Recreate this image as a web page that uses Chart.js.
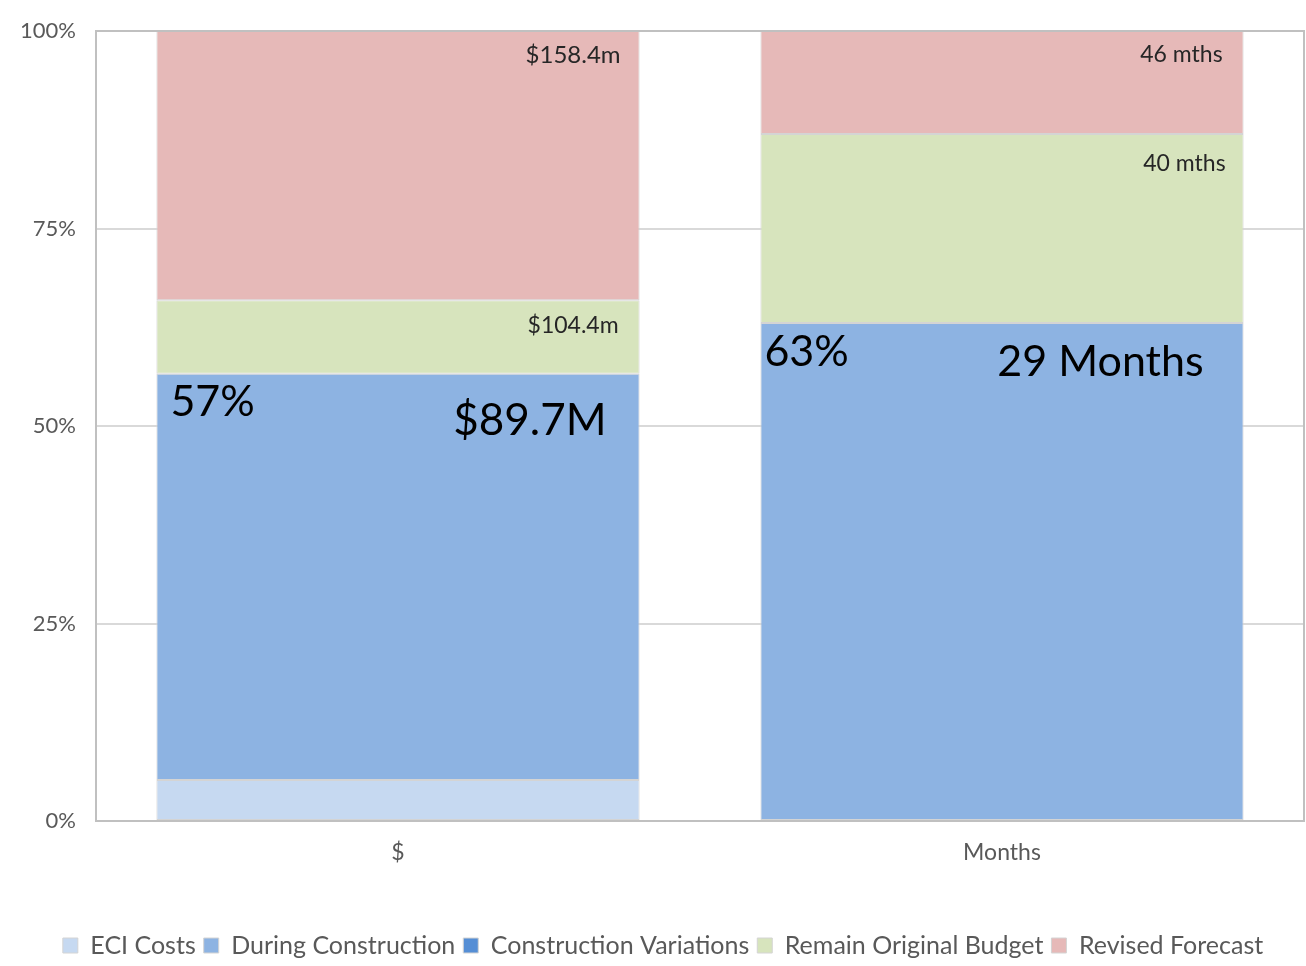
<!DOCTYPE html>
<html>
<head>
<meta charset="utf-8">
<script src="https://cdn.jsdelivr.net/npm/chart.js@4.4.1/dist/chart.umd.min.js"></script>
<style>
html,body{margin:0;padding:0;background:#fff;overflow:hidden;}
#wrap{width:1306px;height:966px;position:relative;overflow:hidden;}
</style>
</head>
<body>
<div id="wrap"><canvas id="c" width="1306" height="968"></canvas></div>
<script>
// ---- data ----
const categories = ['$', 'Months'];
const seriesNames = ['ECI Costs', 'During Construction', 'Construction Variations', 'Remain Original Budget', 'Revised Forecast'];
const eciCosts = [8.2, 0];
const duringConstruction = [81.5, 29];
const constructionVariations = [0, 0];
const remainOriginalBudget = [14.7, 11];
const revisedForecast = [54.0, 6];
const yTicks = [0, 25, 50, 75, 100];
// annotation texts: [datasetIndex, categoryIndex, text]
const labelTexts = [
  [4, 0, '$158.4m'],
  [3, 0, '$104.4m'],
  [1, 0, '57%'],
  [1, 0, '$89.7M'],
  [4, 1, '46 mths'],
  [3, 1, '40 mths'],
  [1, 1, '63%'],
  [1, 1, '29 Months']
];
// ---- styles for annotations (align, dx, dy, size) ----
const labelStyles = [
  {align:'right', dx:-19, dy:24, size:24},
  {align:'right', dx:-21, dy:25, size:23},
  {align:'left',  dx:14,  dy:28, size:43},
  {align:'right', dx:-33, dy:47, size:44},
  {align:'right', dx:-21, dy:24, size:23},
  {align:'right', dx:-18, dy:30, size:23},
  {align:'left',  dx:4,   dy:29, size:43},
  {align:'right', dx:-40, dy:39, size:43}
];

const raw = [eciCosts, duringConstruction, constructionVariations, remainOriginalBudget, revisedForecast];
const totals = categories.map((_, i) => raw.reduce((s, a) => s + a[i], 0));
const colors = ['#c6d9f1', '#8db3e2', '#558ed5', '#d7e4bd', '#e6b9b8'];

const datasets = raw.map((arr, k) => ({
  label: seriesNames[k],
  data: arr.map((v, i) => v / totals[i] * 100),
  backgroundColor: colors[k],
  borderColor: '#d4d4d4',
  borderWidth: 1,
  borderSkipped: false,
  categoryPercentage: 1.0,
  barPercentage: 0.8
}));

const FONT = 'Lato, "Open Sans", sans-serif';

const annot = {
  id: 'annot',
  afterDatasetsDraw(chart) {
    const ctx = chart.ctx;
    const a = chart.chartArea;
    ctx.save();
    // plot border
    ctx.strokeStyle = '#c0c0c0';
    ctx.lineWidth = 2;
    ctx.strokeRect(a.left, a.top, a.right - a.left, a.bottom - a.top);
    ctx.textBaseline = 'middle';
    labelTexts.forEach((lt, n) => {
      const st = labelStyles[n];
      const el = chart.getDatasetMeta(lt[0]).data[lt[1]];
      const left = el.x - el.width / 2, right = el.x + el.width / 2;
      const top = Math.min(el.y, el.base);
      ctx.font = st.size + 'px ' + FONT;
      ctx.fillStyle = st.size > 30 ? '#000000' : '#262626';
      ctx.textAlign = st.align;
      const x = st.align === 'left' ? left + st.dx : right + st.dx;
      ctx.fillText(lt[2], x, top + st.dy);
    });
    ctx.restore();
  }
};

new Chart(document.getElementById('c'), {
  type: 'bar',
  data: { labels: categories, datasets },
  options: {
    responsive: false,
    animation: false,
    devicePixelRatio: 1,
    layout: { padding: { top: 31, right: 2, left: 22, bottom: 0 } },
    plugins: {
      legend: {
        position: 'bottom',
        labels: {
          boxWidth: 15, boxHeight: 15,
          color: '#595959',
          font: { family: FONT, size: 25 },
          padding: 8
        }
      },
      tooltip: { enabled: false }
    },
    scales: {
      x: {
        stacked: true,
        grid: { display: false },
        border: { display: false },
        ticks: { color: '#595959', font: { family: FONT, size: 23 }, padding: 10 },
        afterFit(s) { s.height = 104; }
      },
      y: {
        stacked: true,
        min: 0, max: 100,
        afterBuildTicks(s) { s.ticks = yTicks.map(v => ({ value: v })); },
        ticks: { color: '#595959', font: { family: FONT, size: 22 }, padding: 20,
                 callback: v => v + '%' },
        grid: { color: '#d9d9d9', lineWidth: 2, drawTicks: false },
        border: { display: false },
        afterFit(s) { s.width = 74; s.paddingTop = 0; s.paddingBottom = 0; }
      }
    }
  },
  plugins: [annot]
});
</script>
</body>
</html>
